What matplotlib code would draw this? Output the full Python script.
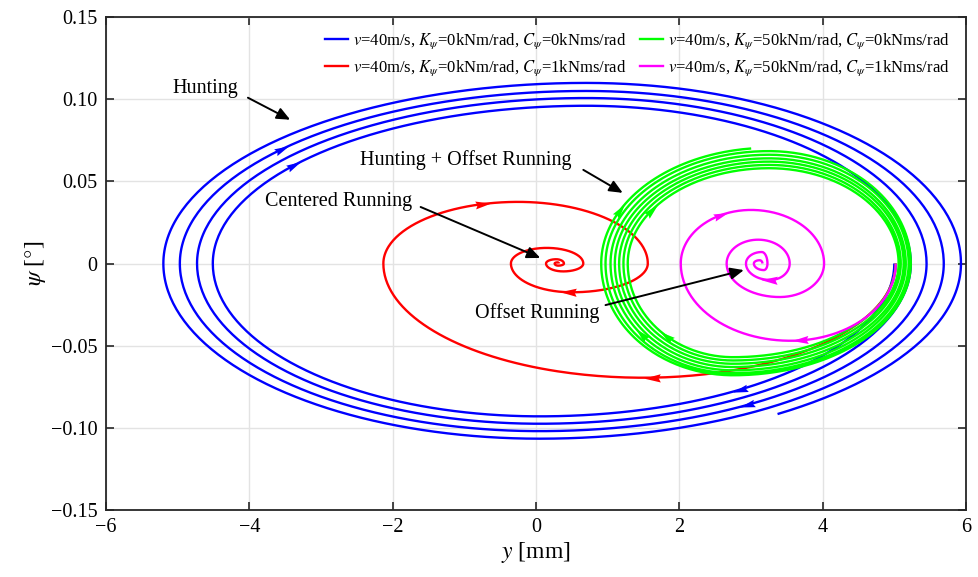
import numpy as np
import matplotlib
matplotlib.use("Agg")
import matplotlib.pyplot as plt
from matplotlib.path import Path
from matplotlib.lines import Line2D

plt.rcParams["font.family"] = ["Liberation Serif", "DejaVu Serif"]
plt.rcParams["mathtext.fontset"] = "stix"

# Each trajectory is described turn by turn: the psi = 0 crossings on the right
# and left, and the psi extremes (bottom / top) with the y where they occur.
blue_right = [5.00, 5.23, 5.45, 5.69, 5.93]
blue_bottom_x = [0.05, 0.05, 0.05, 0.05, 0.05]
blue_bottom_y = [-0.0930, -0.0975, -0.1020, -0.1066, -0.1110]
blue_left = [-4.51, -4.73, -4.97, -5.20]
blue_top_x = [0.70, 0.70, 0.70, 0.70]
blue_top_y = [0.0960, 0.1007, 0.1050, 0.1099]
blue_end_x = 3.31

red_right = [5.02, 1.56, 0.66, 0.39, 0.32]
red_bottom_x = [1.50, 0.50, 0.38, 0.31]
red_bottom_y = [-0.0695, -0.0175, -0.0048, -0.0013]
red_left = [-2.13, -0.35, 0.14, 0.26]
red_top_x = [-0.25, 0.15, 0.28, 0.30]
red_top_y = [0.0375, 0.0095, 0.0026, 0.0007]

green_right = [5.02, 5.06, 5.09, 5.13, 5.16, 5.20, 5.23]
green_bottom_x = [2.75, 2.75, 2.75, 2.75, 2.75, 2.75, 2.75]
green_bottom_y = [-0.0570, -0.0590, -0.0610, -0.0630, -0.0650, -0.0667, -0.0680]
green_left = [1.28, 1.22, 1.16, 1.10, 1.04, 0.97, 0.91]
green_top_x = [3.25, 3.25, 3.25, 3.25, 3.25, 3.25, 3.25]
green_top_y = [0.0580, 0.0600, 0.0620, 0.0640, 0.0662, 0.0684, 0.0704]
green_end_x = 3.04

magenta_right = [5.02, 4.02, 3.54, 3.23, 3.16]
magenta_bottom_x = [3.55, 3.40, 3.27, 3.18]
magenta_bottom_y = [-0.0470, -0.0204, -0.0100, -0.0040]
magenta_left = [2.02, 2.66, 2.93, 3.04]
magenta_top_x = [3.00, 3.10, 3.15, 3.12]
magenta_top_y = [0.0326, 0.0145, 0.0070, 0.0020]

legend_labels = [
    r"$v$=40m/s, $K_{\psi}$=0kNm/rad, $C_{\psi}$=0kNms/rad",
    r"$v$=40m/s, $K_{\psi}$=0kNm/rad, $C_{\psi}$=1kNms/rad",
    r"$v$=40m/s, $K_{\psi}$=50kNm/rad, $C_{\psi}$=0kNms/rad",
    r"$v$=40m/s, $K_{\psi}$=50kNm/rad, $C_{\psi}$=1kNms/rad",
]

x_ticks = [-6, -4, -2, 0, 2, 4, 6]
x_tick_labels = ["\u22126", "\u22124", "\u22122", "0", "2", "4", "6"]
y_ticks = [-0.15, -0.10, -0.05, 0, 0.05, 0.10, 0.15]
y_tick_labels = ["\u22120.15", "\u22120.10", "\u22120.05", "0", "0.05", "0.10", "0.15"]


def trajectory(right, bottom_x, bottom_y, left, top_x, top_y, end_x=None, n=90):
    """Join the turning points with quarter-ellipse arcs (clockwise motion)."""
    keys = []
    for i in range(len(right)):
        keys.append((right[i], 0.0))
        if i < len(bottom_y):
            keys.append((bottom_x[i], bottom_y[i]))
        if i < len(left):
            keys.append((left[i], 0.0))
        if i < len(top_y):
            keys.append((top_x[i], top_y[i]))
    arcs = []
    for a, b in zip(keys[:-1], keys[1:]):
        if a[1] == 0.0:
            th = np.linspace(0, np.pi / 2, n)
            x0, (xe, ye) = a[0], b
        else:
            th = np.linspace(np.pi / 2, 0, n)
            x0, (xe, ye) = b[0], a
        arcs.append((xe + (x0 - xe) * np.cos(th), ye * np.sin(th)))
    if end_x is not None:
        x, y = arcs[-1]
        d = np.sign(x[-1] - x[0])
        keep = d * (x - end_x) <= 0
        arcs[-1] = (x[keep], y[keep])
    return arcs


fig = plt.figure(figsize=(9.79, 5.77), dpi=100)
ax = fig.add_axes([0.1083, 0.1161, 0.8784, 0.8544])
ax.set_xlim(-6, 6)
ax.set_ylim(-0.15, 0.15)

series = [
    ("#0000ff", trajectory(blue_right, blue_bottom_x, blue_bottom_y, blue_left,
                           blue_top_x, blue_top_y, blue_end_x),
     [(2, -3.40), (10, -3.57), (0, 2.81), (8, 2.90)]),
    ("#ff0000", trajectory(red_right, red_bottom_x, red_bottom_y, red_left,
                           red_top_x, red_top_y),
     [(2, -0.73), (0, 1.61), (5, 0.44)]),
    ("#00ff00", trajectory(green_right, green_bottom_x, green_bottom_y, green_left,
                           green_top_x, green_top_y, green_end_x),
     [(2, 1.63), (26, 1.18), (1, 1.81), (17, 1.46)]),
    ("#ff00ff", trajectory(magenta_right, magenta_bottom_x, magenta_bottom_y,
                           magenta_left, magenta_top_x, magenta_top_y),
     [(2, 2.58), (0, 3.69), (9, 3.25)]),
]

lw = 1.7
for color, arcs, _ in series:
    xs = np.concatenate([a[0] for a in arcs])
    ys = np.concatenate([a[1] for a in arcs])
    ax.plot(xs, ys, color=color, lw=lw, zorder=2, solid_capstyle="butt")


def head_marker(angle):
    pts = np.array([[1.0, 0.0], [-1.0, 0.5], [-0.75, 0.0], [-1.0, -0.5], [1.0, 0.0]])
    c, s = np.cos(angle), np.sin(angle)
    rot = pts @ np.array([[c, s], [-s, c]])
    return Path(rot, [Path.MOVETO, Path.LINETO, Path.LINETO, Path.LINETO, Path.CLOSEPOLY])


for color, arcs, arrows in series:
    for idx, x_at in arrows:
        x, y = arcs[idx]
        k = int(np.argmin(np.abs(x - x_at)))
        k = min(max(k, 1), len(x) - 2)
        p0 = ax.transData.transform((x[k - 1], y[k - 1]))
        p1 = ax.transData.transform((x[k + 1], y[k + 1]))
        ang = np.arctan2(p1[1] - p0[1], p1[0] - p0[0])
        ax.plot([x[k]], [y[k]], marker=head_marker(ang), markersize=12,
                color=color, markeredgewidth=0, zorder=3, linestyle="none")

# annotations
ann = dict(arrowstyle="-|>,head_length=0.5,head_width=0.22", color="black",
           lw=1.4, shrinkA=0, shrinkB=0, mutation_scale=16)
fs_ann = 14.5
ax.text(-4.62, 0.1064, "Hunting", fontsize=fs_ann, ha="center", va="center")
ax.annotate("", xy=(-3.43, 0.0875), xytext=(-4.02, 0.1009), arrowprops=ann)
ax.text(-0.98, 0.0630, "Hunting + Offset Running", fontsize=fs_ann, ha="center", va="center")
ax.annotate("", xy=(1.21, 0.0430), xytext=(0.66, 0.0570), arrowprops=ann)
ax.text(-2.76, 0.0375, "Centered Running", fontsize=fs_ann, ha="center", va="center")
ax.annotate("", xy=(0.06, 0.0034), xytext=(-1.61, 0.0344), arrowprops=ann)
ax.text(0.01, -0.0300, "Offset Running", fontsize=fs_ann, ha="center", va="center")
ax.annotate("", xy=(2.90, -0.0040), xytext=(0.97, -0.0253), arrowprops=ann)

ax.set_xticks(x_ticks)
ax.set_xticklabels(x_tick_labels)
ax.set_yticks(y_ticks)
ax.set_yticklabels(y_tick_labels)
ax.tick_params(direction="in", length=6, width=1.2, labelsize=14.5,
               top=True, right=True, pad=6, color="#262626")
ax.grid(True, color="#e3e3e3", lw=1.0)
ax.set_axisbelow(True)
for sp in ax.spines.values():
    sp.set_linewidth(1.3)
    sp.set_color("#262626")

ax.set_xlabel(r"$y$ [mm]", fontsize=17, labelpad=2)
ax.set_ylabel(r"$\psi$ [$\degree$]", fontsize=17, labelpad=2)

handles = [Line2D([], [], color=c, lw=lw) for c, _, _ in series]
ax.legend(handles, legend_labels, ncol=2, loc="upper right",
          bbox_to_anchor=(0.995, 0.995), frameon=False, fontsize=12,
          handlelength=1.4, handletextpad=0.3, columnspacing=0.8,
          labelspacing=0.45, borderaxespad=0.3)

fig.savefig("out.png", dpi=100)
